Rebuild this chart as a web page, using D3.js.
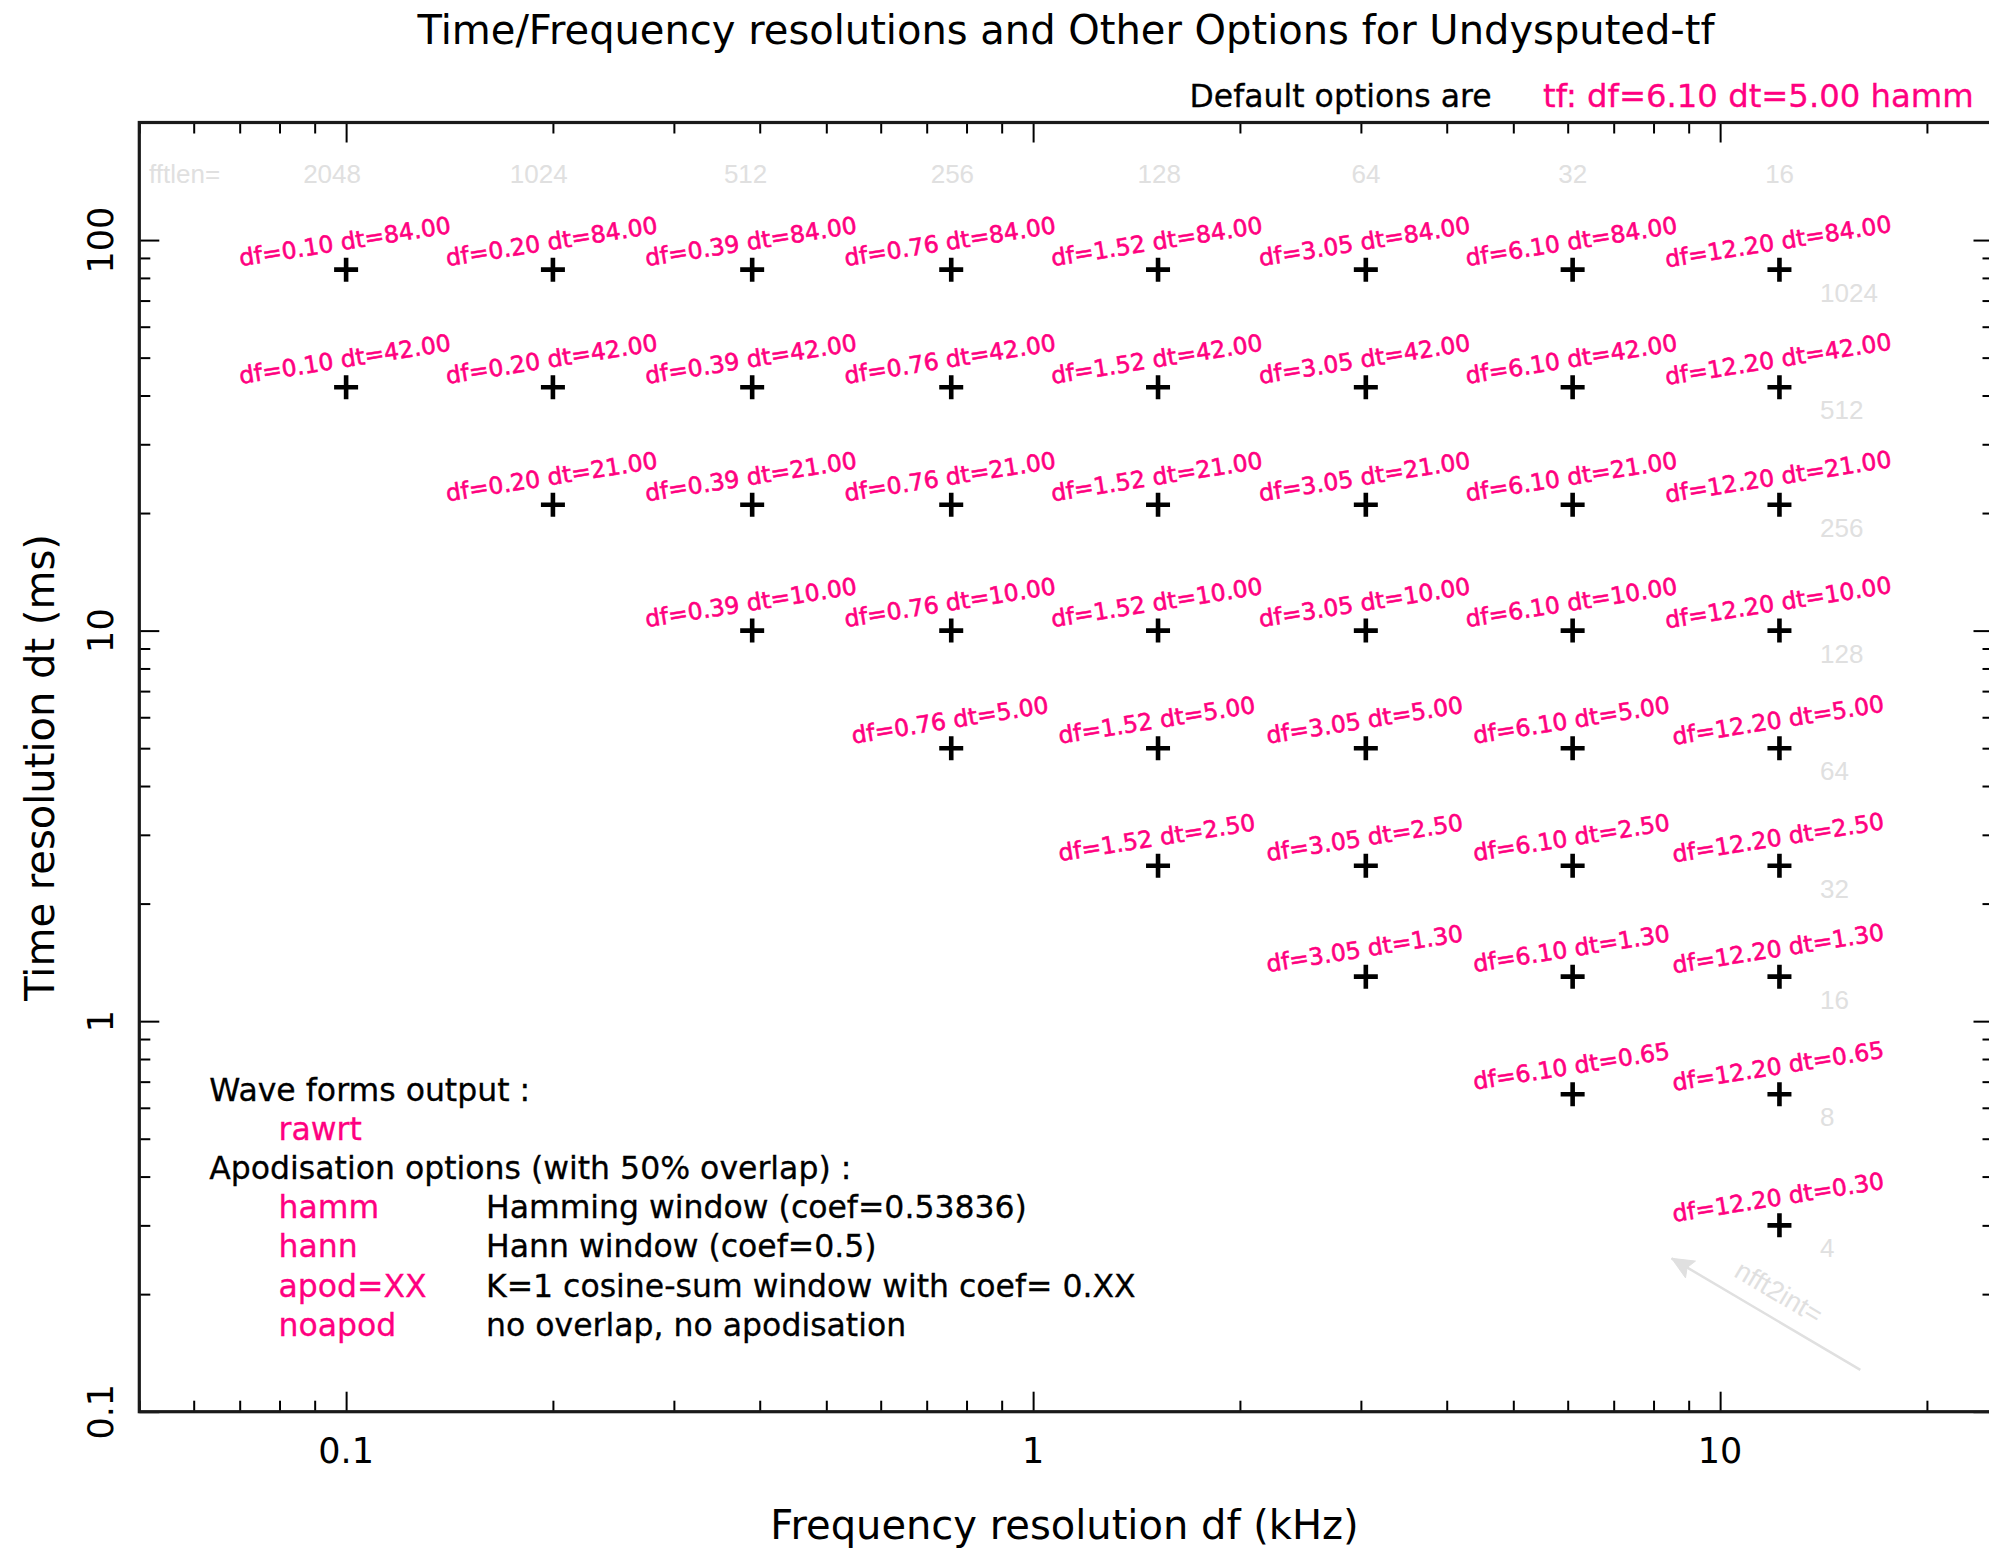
<!DOCTYPE html>
<html>
<head>
<meta charset="utf-8">
<script src="https://cdn.jsdelivr.net/npm/d3@7"></script>
<style>
  html, body { margin: 0; padding: 0; background: #ffffff; }
  svg { display: block; }
</style>
</head>
<body>
<script>
// ---------------- data ----------------
const dfValues = [0.10, 0.20, 0.39, 0.76, 1.52, 3.05, 6.10, 12.20];      // kHz
const dtValues = [84.00, 42.00, 21.00, 10.00, 5.00, 2.50, 1.30, 0.65, 0.30]; // ms
const firstDfIndex = [0, 0, 1, 2, 3, 4, 5, 6, 7]; // first df column present in each dt row

const fftlenLabels = ["2048", "1024", "512", "256", "128", "64", "32", "16"];
const fftlenDf = [0.0954, 0.1907, 0.3815, 0.763, 1.526, 3.052, 6.104, 12.207];
const nfft2intLabels = ["1024", "512", "256", "128", "64", "32", "16", "8", "4"];

const xMajorTicks = [0.1, 1, 10];
const xTickLabels = ["0.1", "1", "10"];
const yMajorTicks = [0.1, 1, 10, 100];
const yTickLabels = ["0.1", "1", "10", "100"];

const arrowFrom = [16.0, 0.128];
const arrowTo = [8.5, 0.247];

const legendKeys = ["Wave forms output :", "rawrt", "Apodisation options (with 50% overlap) :",
                    "hamm", "hann", "apod=XX", "noapod"];
const legendIsOption = [false, true, false, true, true, true, true];
const legendDescriptions = ["", "", "", "Hamming window (coef=0.53836)", "Hann window (coef=0.5)",
                            "K=1 cosine-sum window with coef= 0.XX", "no overlap, no apodisation"];

const titleText = "Time/Frequency resolutions and Other Options for Undysputed-tf";
const defaultLabel = "Default options are";
const defaultValue = "tf: df=6.10 dt=5.00 hamm";
const xTitle = "Frequency resolution df (kHz)";
const yTitle = "Time resolution dt (ms)";

// ---------------- layout ----------------
const W = 1989, H = 1553;
const PINK = "#ff0080", GRAY = "#e0e0e0", INK = "#000000";
const HFONT = "'DejaVu Sans', sans-serif";
const GFONT = "'Liberation Sans', Arial, sans-serif";

const pLeft = 139.3, pRight = 1993.5, pTop = 122.5, pBottom = 1411.7;
const x = d3.scaleLog().domain([0.05, 25]).range([pLeft, pRight]);
const y = d3.scaleLog().domain([0.1, 200]).range([pBottom, pTop]);

const svg = d3.select("body").append("svg")
  .attr("width", W).attr("height", H)
  .attr("viewBox", `0 0 ${W} ${H}`);
svg.append("rect").attr("width", W).attr("height", H).attr("fill", "#fff");

// ---------------- axes (ticks inward) ----------------
const isPow10 = v => Math.abs(Math.log10(v) - Math.round(Math.log10(v))) < 1e-9;
const xMinor = x.ticks().filter(v => !isPow10(v));
const yMinor = y.ticks().filter(v => !isPow10(v));
const MAJ = 20, MIN = 11;

function styleAxis(g) {
  g.select(".domain").remove();
  g.selectAll(".tick line").attr("stroke", INK).attr("stroke-width", 2);
  g.selectAll(".tick text").remove();
}
const axes = [
  [d3.axisBottom, `translate(0,${pBottom})`, x, xMinor, xMajorTicks],
  [d3.axisTop, `translate(0,${pTop})`, x, xMinor, xMajorTicks],
  [d3.axisLeft, `translate(${pLeft},0)`, y, yMinor, yMajorTicks],
  [d3.axisRight, `translate(${pRight},0)`, y, yMinor, yMajorTicks]
];
axes.forEach(([fn, tr, sc, minor, major]) => {
  svg.append("g").attr("transform", tr)
    .call(fn(sc).tickValues(minor).tickSize(-MIN).tickFormat(""))
    .call(styleAxis);
  svg.append("g").attr("transform", tr)
    .call(fn(sc).tickValues(major).tickSize(-MAJ).tickFormat(""))
    .call(styleAxis);
});

// frame
svg.append("rect")
  .attr("x", pLeft).attr("y", pTop)
  .attr("width", pRight - pLeft).attr("height", pBottom - pTop)
  .attr("fill", "none").attr("stroke", "#1a1a1a").attr("stroke-width", 3.2);

// tick labels
svg.append("g").selectAll("text").data(xMajorTicks).join("text")
  .attr("x", d => x(d)).attr("y", pBottom + 51.5)
  .attr("text-anchor", "middle")
  .attr("font-family", HFONT).attr("font-size", 35).attr("fill", INK)
  .text((d, i) => xTickLabels[i]);

svg.append("g").selectAll("text").data(yMajorTicks).join("text")
  .attr("transform", d => `translate(113,${y(d)}) rotate(-90)`)
  .attr("text-anchor", "middle")
  .attr("font-family", HFONT).attr("font-size", 35).attr("fill", INK)
  .text((d, i) => yTickLabels[i]);

// axis titles
svg.append("text")
  .attr("x", 1064.5).attr("y", 1539)
  .attr("text-anchor", "middle")
  .attr("font-family", HFONT).attr("font-size", 40).attr("fill", INK)
  .text(xTitle);
svg.append("text")
  .attr("transform", `translate(53.5,767.5) rotate(-90)`)
  .attr("text-anchor", "middle")
  .attr("font-family", HFONT).attr("font-size", 40).attr("fill", INK)
  .text(yTitle);

// title & default options
svg.append("text")
  .attr("x", 1066).attr("y", 43.5)
  .attr("text-anchor", "middle")
  .attr("font-family", HFONT).attr("font-size", 40).attr("fill", INK)
  .text(titleText);
svg.append("text")
  .attr("x", 1189.5).attr("y", 106.7)
  .attr("font-family", HFONT).attr("font-size", 31.5).attr("fill", INK)
  .attr("stroke", INK).attr("stroke-width", 0.3)
  .text(defaultLabel);
svg.append("text")
  .attr("x", 1543).attr("y", 106.7)
  .attr("font-family", HFONT).attr("font-size", 32.3).attr("fill", PINK)
  .attr("stroke", PINK).attr("stroke-width", 0.3)
  .text(defaultValue);

// ---------------- light gray annotations ----------------
const gAnn = svg.append("g").attr("fill", GRAY).attr("font-family", GFONT).attr("font-size", 26);
gAnn.append("text").attr("x", 149).attr("y", 183).text("fftlen=");
gAnn.selectAll("text.fft").data(fftlenDf).join("text").attr("class", "fft")
  .attr("x", d => x(d)).attr("y", 183).attr("text-anchor", "middle")
  .text((d, i) => fftlenLabels[i]);
gAnn.selectAll("text.nfft").data(dtValues).join("text").attr("class", "nfft")
  .attr("x", 1820).attr("y", d => y(d) + 32)
  .text((d, i) => nfft2intLabels[i]);

// arrow
{
  const x1 = x(arrowFrom[0]), y1 = y(arrowFrom[1]);
  const x2 = x(arrowTo[0]), y2 = y(arrowTo[1]);
  svg.append("line")
    .attr("x1", x1).attr("y1", y1).attr("x2", x2).attr("y2", y2)
    .attr("stroke", GRAY).attr("stroke-width", 2.5);
  const ang = Math.atan2(y1 - y2, x1 - x2); // direction from tip back to tail
  const L = 24, half = 24 * Math.PI / 180;
  const p1 = [x2 + L * Math.cos(ang + half), y2 + L * Math.sin(ang + half)];
  const p2 = [x2 + L * Math.cos(ang - half), y2 + L * Math.sin(ang - half)];
  const notch = [x2 + 0.75 * L * Math.cos(ang), y2 + 0.75 * L * Math.sin(ang)];
  svg.append("path")
    .attr("d", `M${x2},${y2}L${p1[0]},${p1[1]}L${notch[0]},${notch[1]}L${p2[0]},${p2[1]}Z`)
    .attr("fill", GRAY).attr("stroke", GRAY).attr("stroke-width", 1);
  const deg = ang * 180 / Math.PI;
  const mx = (x1 + x2) / 2 + 16 * Math.sin(ang), my = (y1 + y2) / 2 - 16 * Math.cos(ang);
  svg.append("text")
    .attr("transform", `translate(${mx},${my}) rotate(${deg})`)
    .attr("text-anchor", "middle")
    .attr("font-family", GFONT).attr("font-size", 27).attr("fill", GRAY)
    .text("nfft2int=");
}

// ---------------- points ----------------
const points = [];
dtValues.forEach((dt, i) => {
  dfValues.forEach((df, j) => {
    if (j >= firstDfIndex[i]) points.push({ df, dt });
  });
});

const gPts = svg.append("g");
gPts.selectAll("path").data(points).join("path")
  .attr("transform", d => `translate(${x(d.df)},${y(d.dt)})`)
  .attr("d", "M-12,0H12M0,-12V12")
  .attr("stroke", INK).attr("stroke-width", 4.6).attr("fill", "none");

gPts.selectAll("text").data(points).join("text")
  .attr("transform", d => `translate(${x(d.df)},${y(d.dt) - 20}) rotate(-9)`)
  .attr("text-anchor", "middle")
  .attr("font-family", HFONT).attr("font-size", 23.5).attr("fill", PINK)
  .attr("stroke", PINK).attr("stroke-width", 0.6)
  .text(d => `df=${d.df.toFixed(2)} dt=${d.dt.toFixed(2)}`);

// ---------------- legend ----------------
const legY0 = 1101, legStep = 39.1;
const gLeg = svg.append("g").attr("font-family", HFONT).attr("font-size", 31.5)
  .attr("stroke-width", 0.3);
gLeg.selectAll("text.key").data(legendKeys).join("text").attr("class", "key")
  .attr("x", (d, i) => legendIsOption[i] ? 278.5 : 209.3)
  .attr("y", (d, i) => legY0 + i * legStep)
  .attr("fill", (d, i) => legendIsOption[i] ? PINK : INK)
  .attr("stroke", (d, i) => legendIsOption[i] ? PINK : INK)
  .text(d => d);
gLeg.selectAll("text.desc").data(legendDescriptions).join("text").attr("class", "desc")
  .attr("x", 486)
  .attr("y", (d, i) => legY0 + i * legStep)
  .attr("fill", INK).attr("stroke", INK)
  .text(d => d);
</script>
</body>
</html>
